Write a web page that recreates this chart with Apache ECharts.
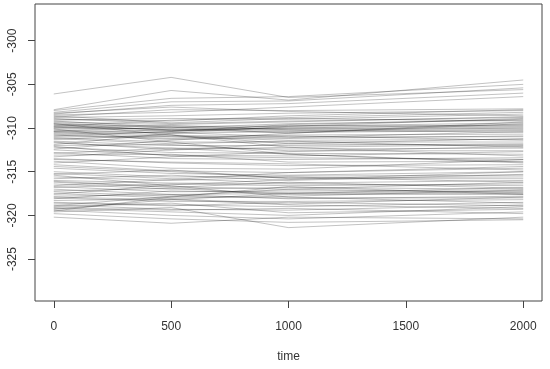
<!DOCTYPE html>
<html>
<head>
<meta charset="utf-8">
<script src="https://cdn.jsdelivr.net/npm/echarts@6/dist/echarts.min.js"></script>
<style>
  html, body { margin: 0; padding: 0; background: #fff; }
  #chart { width: 550px; height: 369px; }
</style>
</head>
<body>
<div id="chart"></div>
<script>
// sampling times
var time = [0, 500, 1000, 2000];

// value of every trajectory at each sampling time (same order in all four)
var at0 = [
  -306.1, -307.9, -308.0, -308.2, -308.4, -308.5, -308.7, -308.8, -309.0, -309.1,
  -309.3, -309.4, -309.6, -309.7, -309.9, -310.0, -310.2, -310.3, -310.5, -310.6,
  -310.8, -311.0, -311.1, -311.3, -311.5, -311.7, -312.0, -312.2, -312.5, -312.8,
  -313.1, -313.5, -313.8, -314.2, -314.6, -315.0, -315.3, -315.6, -315.8, -316.0,
  -316.2, -316.4, -316.7, -317.0, -317.2, -317.5, -317.8, -318.0, -318.3, -318.5,
  -318.8, -319.0, -319.2, -319.4, -319.6, -319.8, -320.2, -312.4, -311.9, -313.3,
  -314.0, -316.6, -317.6, -318.9, -310.1, -309.5, -315.4, -319.5, -308.6, -310.4,
  -308.3, -308.9, -309.2, -309.5, -309.8, -310.0, -310.4, -310.7, -311.2, -311.6,
  -312.1, -312.9, -316.1, -316.8, -317.3, -317.9, -318.6, -319.1, -319.3, -318.1,
  -315.2, -314.4, -309.8, -310.9, -313.6
];
var at500 = [
  -304.2, -305.7, -306.6, -307.0, -307.4, -308.2, -307.9, -308.6, -309.2, -308.9,
  -309.6, -310.0, -309.8, -310.2, -310.4, -310.1, -310.6, -309.9, -311.0, -310.5,
  -311.3, -311.0, -311.6, -310.8, -312.0, -312.3, -311.9, -312.8, -313.1, -313.5,
  -313.0, -314.0, -314.6, -314.9, -315.2, -315.6, -314.8, -316.0, -315.4, -316.3,
  -316.8, -317.0, -317.3, -317.6, -316.9, -318.0, -317.6, -318.4, -318.1, -318.8,
  -319.3, -318.6, -319.6, -320.0, -319.1, -320.4, -320.9, -311.4, -310.6, -312.5,
  -313.3, -315.9, -316.5, -317.8, -311.6, -310.8, -316.6, -317.9, -309.4, -310.3,
  -307.6, -309.5, -309.9, -310.3, -310.2, -309.7, -310.8, -311.2, -311.8, -312.5,
  -313.2, -312.3, -316.7, -316.4, -317.8, -318.2, -318.9, -319.4, -318.2, -317.2,
  -315.8, -315.0, -309.1, -310.4, -313.9
];
var at1000 = [
  -306.5, -306.8, -306.4, -306.9, -307.2, -307.6, -308.0, -308.3, -308.6, -309.0,
  -309.3, -309.5, -309.8, -310.0, -309.9, -310.3, -310.4, -310.6, -310.8, -311.0,
  -311.1, -311.4, -311.6, -311.8, -312.0, -312.4, -312.6, -312.9, -313.2, -313.6,
  -313.9, -314.3, -314.7, -315.1, -315.4, -315.5, -315.8, -315.6, -316.0, -316.4,
  -316.2, -316.8, -317.2, -317.5, -317.6, -317.8, -318.1, -318.4, -318.7, -319.0,
  -319.4, -319.7, -320.0, -320.4, -321.4, -320.8, -320.2, -310.6, -309.8, -311.8,
  -312.7, -315.1, -315.9, -317.0, -313.0, -312.2, -317.9, -316.7, -308.9, -310.1,
  -308.1, -309.2, -310.1, -309.7, -310.5, -310.2, -311.2, -310.9, -311.5, -312.2,
  -313.4, -313.0, -317.0, -316.6, -318.0, -317.5, -318.5, -319.2, -318.8, -317.4,
  -316.3, -315.7, -308.8, -309.6, -314.1
];
var at2000 = [
  -305.6, -304.5, -305.0, -305.4, -306.0, -306.4, -307.8, -308.0, -307.9, -308.4,
  -308.7, -309.1, -309.4, -309.6, -309.8, -310.0, -310.2, -309.5, -310.7, -311.0,
  -310.4, -311.3, -311.6, -312.0, -311.8, -312.3, -312.6, -313.0, -312.7, -313.4,
  -313.8, -314.2, -313.6, -314.6, -315.0, -315.4, -315.8, -316.2, -315.3, -316.6,
  -316.9, -317.0, -317.2, -316.8, -317.5, -317.1, -317.8, -318.2, -317.9, -318.5,
  -318.8, -319.3, -319.0, -319.6, -320.2, -320.5, -320.4, -309.3, -308.9, -311.2,
  -312.1, -314.4, -315.0, -316.2, -313.9, -313.2, -318.6, -317.6, -309.2, -310.1,
  -308.6, -308.8, -309.9, -309.7, -310.3, -310.5, -310.9, -311.4, -312.2, -311.9,
  -313.6, -314.0, -317.4, -316.4, -318.0, -317.6, -318.9, -319.8, -319.2, -317.3,
  -316.0, -315.6, -308.2, -309.0, -314.8
];

var xTicks = [0, 500, 1000, 1500, 2000];
var yTicks = [-325, -320, -315, -310, -305, -300];

var series_values = [];
at0.forEach(function (v, i) {
  var cols = [at0[i], at500[i], at1000[i], at2000[i]];
  series_values.push({
    name: 'run' + (i + 1),
    type: 'line',
    symbol: 'none',
    silent: true,
    lineStyle: { width: 1, color: 'rgba(0,0,0,0.24)' },
    data: time.map(function (t, k) { return [t, cols[k]]; })
  });
});

var axisColor = '#444';
var textColor = '#333';
var fontFamily = '"Liberation Sans", Arial, sans-serif';

var chart = echarts.init(document.getElementById('chart'));
chart.setOption({
  animation: false,
  backgroundColor: '#fff',
  grid: {
    left: 35, right: 8, top: 4, bottom: 68,
    show: true,
    borderColor: axisColor,
    borderWidth: 1
  },
  xAxis: {
    type: 'value',
    min: -80,
    max: 2080,
    name: 'time',
    nameLocation: 'middle',
    nameGap: 50,
    nameTextStyle: { color: textColor, fontSize: 12, fontFamily: fontFamily },
    axisLine: { show: false, onZero: false },
    splitLine: { show: false },
    axisTick: {
      show: true, length: 7, inside: false,
      customValues: xTicks,
      lineStyle: { color: axisColor }
    },
    axisLabel: {
      customValues: xTicks,
      margin: 20,
      formatter: function (v) { return String(v); },
      color: textColor, fontSize: 12, fontFamily: fontFamily
    }
  },
  yAxis: {
    type: 'value',
    min: -329.8,
    max: -295.8,
    axisLine: { show: false, onZero: false },
    splitLine: { show: false },
    axisTick: {
      show: true, length: 7, inside: false,
      customValues: yTicks,
      lineStyle: { color: axisColor }
    },
    axisLabel: {
      customValues: yTicks,
      rotate: 90,
      margin: 16,
      formatter: function (v) { return String(v); },
      color: textColor, fontSize: 12, fontFamily: fontFamily
    }
  },
  series: series_values
});
</script>
</body>
</html>
